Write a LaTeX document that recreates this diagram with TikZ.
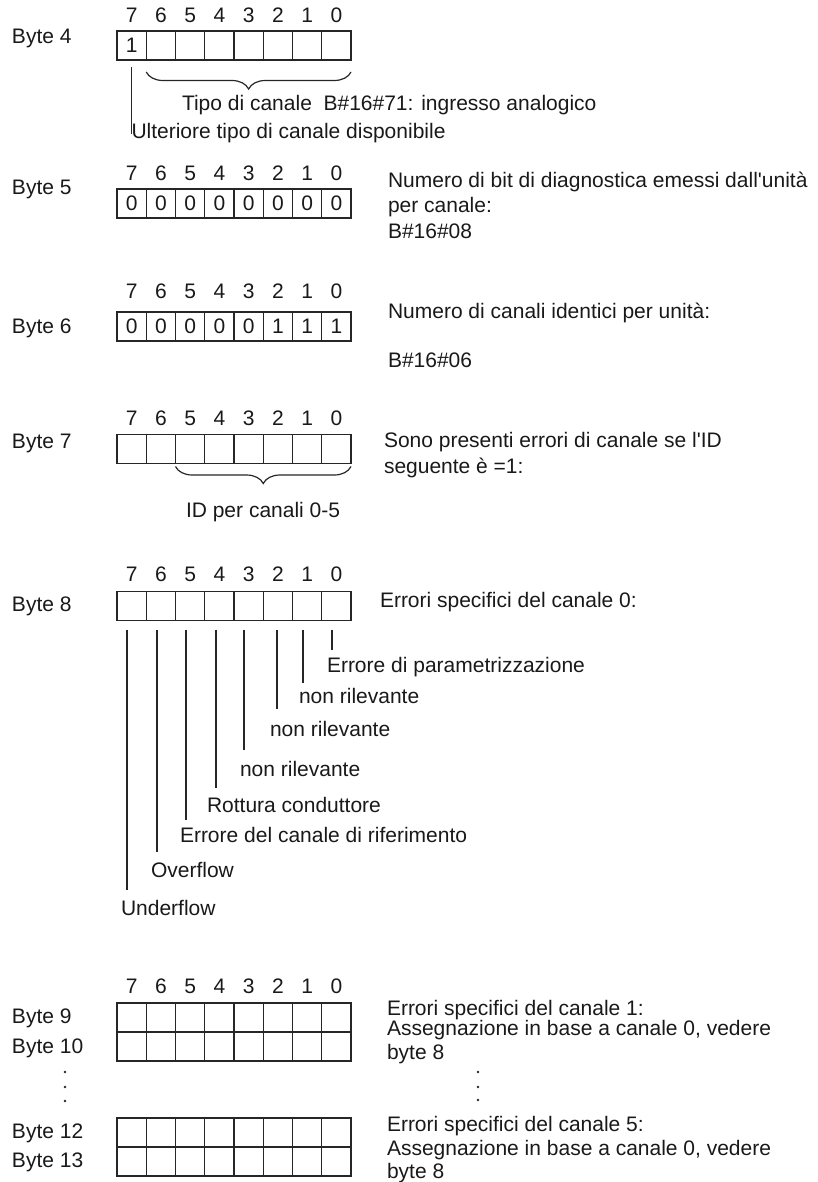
\documentclass[tikz,border=0pt]{standalone}
\usepackage{fontspec}
\setmainfont{Liberation Sans}[Ligatures=TeXOff]
\usetikzlibrary{decorations.pathreplacing,calc}
\def\E{}
\newcommand\byterow[3]{%
  \foreach \b/\v in {#3} {\node[cellbox] (#1c\b) at ({131.625+(7-\b)*29.25},#2) {\v};}%
}
\newcommand\bitheads[2]{%
  \foreach \b in {7,...,0} {\node[bitnum] (#1h\b) at ({131.625+(7-\b)*29.25},#2) {\b};}%
}
\begin{document}
\begin{tikzpicture}[x=1pt,y=-1pt,
  every node/.style={inner sep=0pt,outer sep=0pt,font=\fontsize{21}{25}\selectfont,text=black!90},
  cellbox/.style={draw=black!85,line width=1.2pt,minimum width=29.25pt,minimum height=29pt},
  txt/.style={anchor=base west},
  bitnum/.style={anchor=base},
  lin/.style={line width=1.2pt,draw=black!85},
  bracedec/.style={decorate,decoration={brace,mirror,amplitude=17pt},line width=1.2pt,draw=black!85},
  dotmark/.style={circle,fill=black!85,minimum size=2.6pt}
]
\useasboundingbox (0,0) rectangle (817,1182);

% ---------- Byte 4
\node[txt] (l4) at (12,44) {Byte 4};
\bitheads{b4}{23}
\byterow{b4}{45.5}{7/1,6/\E,5/\E,4/\E,3/\E,2/\E,1/\E,0/\E}
\draw[bracedec] ([yshift=-12pt]b4c6.south west) -- ([yshift=-12pt]b4c0.south east);
\node[txt] (tipo) at (182,111) {Tipo di canale\ \ B\#16\#71: ingresso analogico};
\node[txt] (ult) at (131.5,139) {Ulteriore tipo di canale disponibile};
\draw[lin,shorten <=7pt] (b4c7.south) -- (b4c7.south |- ult.west);

% ---------- Byte 5
\node[txt] (l5) at (12,195) {Byte 5};
\bitheads{b5}{181}
\byterow{b5}{203.5}{7/0,6/0,5/0,4/0,3/0,2/0,1/0,0/0}
\node[txt] (t5a) at (388,188) {Numero di bit di diagnostica emessi dall'unità};
\node[txt] (t5b) at (388,213) {per canale:};
\node[txt] (t5c) at (388,239) {B\#16\#08};

% ---------- Byte 6
\node[txt] (l6) at (12,333) {Byte 6};
\bitheads{b6}{298}
\byterow{b6}{326.5}{7/0,6/0,5/0,4/0,3/0,2/1,1/1,0/1}
\node[txt] (t6a) at (388,318) {Numero di canali identici per unità:};
\node[txt] (t6b) at (388,367) {B\#16\#06};

% ---------- Byte 7
\node[txt] (l7) at (12,448) {Byte 7};
\bitheads{b7}{425}
\byterow{b7}{449}{7/\E,6/\E,5/\E,4/\E,3/\E,2/\E,1/\E,0/\E}
\draw[bracedec] ([yshift=-3pt]b7c5.south west) -- ([yshift=-3pt]b7c0.south east);
\node[txt] (id) at (186,517) {ID per canali 0-5};
\node[txt] (t7a) at (384,447) {Sono presenti errori di canale se l'ID};
\node[txt] (t7b) at (384,473) {seguente è =1:};

% ---------- Byte 8
\node[txt] (l8) at (12,611) {Byte 8};
\bitheads{b8}{581}
\byterow{b8}{606}{7/\E,6/\E,5/\E,4/\E,3/\E,2/\E,1/\E,0/\E}
\node[txt] (t8) at (380,607) {Errori specifici del canale 0:};

\node[txt] (n0) at (327,672) {Errore di parametrizzazione};
\node[txt] (n1) at (299,703) {non rilevante};
\node[txt] (n2) at (270,736) {non rilevante};
\node[txt] (n3) at (240,776) {non rilevante};
\node[txt] (n4) at (207,812) {Rottura conduttore};
\node[txt] (n5) at (180,842) {Errore del canale di riferimento};
\node[txt] (n6) at (151,877) {Overflow};
\node[txt] (n7) at (121,915) {Underflow};

\coordinate (e0) at (332,650);
\coordinate (e1) at (303,683);
\coordinate (e2) at (277,709);
\coordinate (e3) at (244,750);
\coordinate (e4) at (216,788);
\coordinate (e5) at (186,820);
\coordinate (e6) at (157,852);
\coordinate (e7) at (127,890);
\foreach \b in {0,...,7} {\draw[lin,shorten <=9pt] (e\b |- b8c\b.south) -- (e\b);}

% ---------- Bytes 9..13
\bitheads{b9}{993}
\node[txt] (l9) at (12,1023) {Byte 9};
\node[txt] (l10) at (12,1053) {Byte 10};
\node[txt] (l12) at (12,1138) {Byte 12};
\node[txt] (l13) at (12,1167) {Byte 13};
\byterow{b9}{1017.5}{7/\E,6/\E,5/\E,4/\E,3/\E,2/\E,1/\E,0/\E}
\byterow{b10}{1046.5}{7/\E,6/\E,5/\E,4/\E,3/\E,2/\E,1/\E,0/\E}
\byterow{b12}{1132.5}{7/\E,6/\E,5/\E,4/\E,3/\E,2/\E,1/\E,0/\E}
\byterow{b13}{1161.5}{7/\E,6/\E,5/\E,4/\E,3/\E,2/\E,1/\E,0/\E}

\node[dotmark] (dl1) at (65,1072) {};
\node[dotmark] (dl2) at (65,1087) {};
\node[dotmark] (dl3) at (65,1101) {};

\node[txt] (t9a) at (387,1015) {Errori specifici del canale 1:};
\node[txt] (t9b) at (387,1035) {Assegnazione in base a canale 0, vedere};
\node[txt] (t9c) at (387,1059) {byte 8};
\node[dotmark] (dr1) at (478,1072) {};
\node[dotmark] (dr2) at (478,1087) {};
\node[dotmark] (dr3) at (478,1100) {};
\node[txt] (t12a) at (387,1131) {Errori specifici del canale 5:};
\node[txt] (t12b) at (387,1155) {Assegnazione in base a canale 0, vedere};
\node[txt] (t12c) at (387,1178) {byte 8};
\end{tikzpicture}
\end{document}
